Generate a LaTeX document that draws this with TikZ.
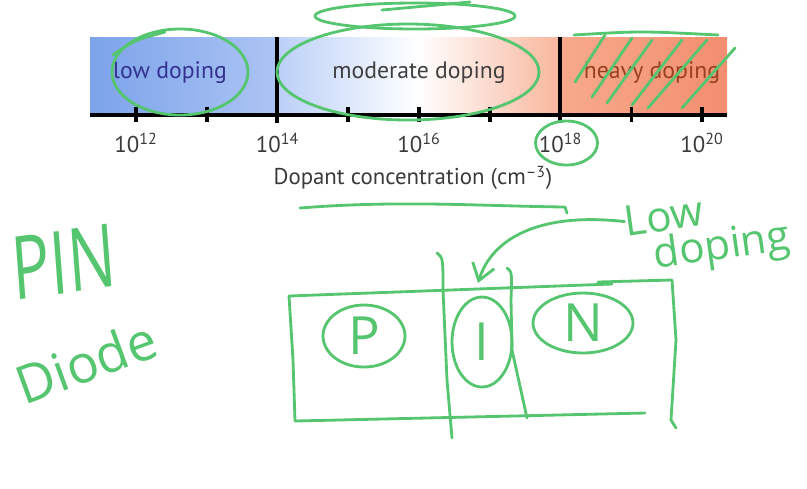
\documentclass[tikz,border=0pt]{standalone}
\usepackage{fontspec}
\setmainfont{PT Sans}
\newfontfamily\handfont{Open Sans}
\usetikzlibrary{arrows.meta,shapes.geometric}
\definecolor{pen}{HTML}{55C56F}
\definecolor{lowA}{HTML}{7CA3EA}
\definecolor{lowB}{HTML}{ACC4F4}
\definecolor{modA}{HTML}{BBD0F7}
\definecolor{modB}{HTML}{F8B69C}
\definecolor{heavyA}{HTML}{F8AA8C}
\definecolor{heavyB}{HTML}{F38E6F}
\definecolor{axgray}{HTML}{3A3A3A}

\begin{document}
\begin{tikzpicture}[x=0.02cm,y=-0.02cm,
    ann/.style={draw=pen,line width=1.6pt,line cap=round,line join=round},
    band/.style={font=\fontsize{13.5}{16}\selectfont},
    tick/.style={font=\fontsize{13}{15}\selectfont,text=axgray},
    hand/.style={text=pen,inner sep=0pt},
    region/.style={ann,ellipse,inner sep=0pt,text=pen,font=\handfont\fontsize{30}{30}\selectfont}]
    \useasboundingbox (0,0) rectangle (807,488);

    % doping bar
    \shade[left color=lowA,right color=lowB](90,37)rectangle(277,115);
    \shade[left color=modA,right color=modB,middle color=white](277,37)rectangle(560,115);
    \shade[left color=heavyA,right color=heavyB](560,37)rectangle(727,115);
    \node[band,text=black!40!blue!60!gray](lowband)at(170,73){low doping};
    \node[band,text=black!75](modband)at(419,73){moderate doping};
    \node[band,text=black!55!red!50!brown](heavyband)at(652,73){heavy doping};

    \draw[line width=2.2pt](90,115)--(727,115);
    \foreach \i in {0,...,8}
        \draw[line width=2pt]({136+70.75*\i},107)--++(0,15);
    \draw[line width=2.2pt](277,37)--(277,123);
    \draw[line width=2.2pt](560,37)--(560,123);
    \foreach \e [count=\k from 0] in {12,14,16,18,20}
        \node[tick](e\e)at({136+141.5*\k},143){10\textsuperscript{\e}};
    \node[tick](axislbl)at(413,178){Dopant concentration (cm\textsuperscript{--3})};

    % annotations on the bar
    \draw[ann](180,72)ellipse[x radius=68,y radius=43];
    \draw[ann](113,55)..controls(135,40)..(165,32);
    \draw[ann](408,72)ellipse[x radius=131,y radius=48];
    \draw[ann](415,16)ellipse[x radius=100,y radius=13];
    \draw[ann](382,10)--(470,2);
    \foreach \a/\b/\c/\d in {575/82/605/35, 592/97/632/38, 607/103/652/40,
                             632/105/682/40, 648/108/707/40, 682/108/735/48}
        \draw[ann](\a,\b)--(\c,\d);
    \draw[ann](574,35)..controls(640,31)..(718,35);
    \draw[ann]([xshift=0.12cm]e18.center)ellipse[x radius=31,y radius=22];
    \draw[ann](300,208)..controls(400,200)and(480,206)..(565,207)--(567,213);

    % PIN diode sketch
    \node[hand,font=\handfont\fontsize{50}{50}\selectfont,xscale=0.72,rotate=6](pin)at(64,262){PIN};
    \node[hand,font=\handfont\fontsize{30}{30}\selectfont,rotate=20](diode)at(86,362){Diode};
    \node[hand,font=\handfont\fontsize{24}{24}\selectfont,rotate=8](lowhand)at(664,216){Low};
    \node[hand,font=\handfont\fontsize{24}{24}\selectfont,rotate=8](dopinghand)at(722,248){doping};

    \draw[ann](289,296)--(612,284);
    \draw[ann](598,282)--(672,280)--(676,340)--(671,420)--(676,428);
    \draw[ann](289,296)--(293,360)--(295,421)--(645,413);
    \draw[ann](437,253)..controls(443,258)..(443,290)--(447,380)--(452,438);
    \draw[ann](507,268)..controls(512,272)..(511,300)--(512,350)--(527,418);

    \node[region,minimum width=1.64cm,minimum height=1.24cm](preg)at(364,336){P};
    \node[region,minimum width=1.2cm,minimum height=1.8cm](ireg)at(482,342){I};
    \node[region,minimum width=2cm,minimum height=1.2cm](nreg)at(583,323){N};

    \coordinate(itop)at(478,283);
    \draw[ann,-{Straight Barb[length=0.32cm,width=0.45cm]}](lowhand.west)..controls(540,212)and(492,238)..(itop);
\end{tikzpicture}
\end{document}
